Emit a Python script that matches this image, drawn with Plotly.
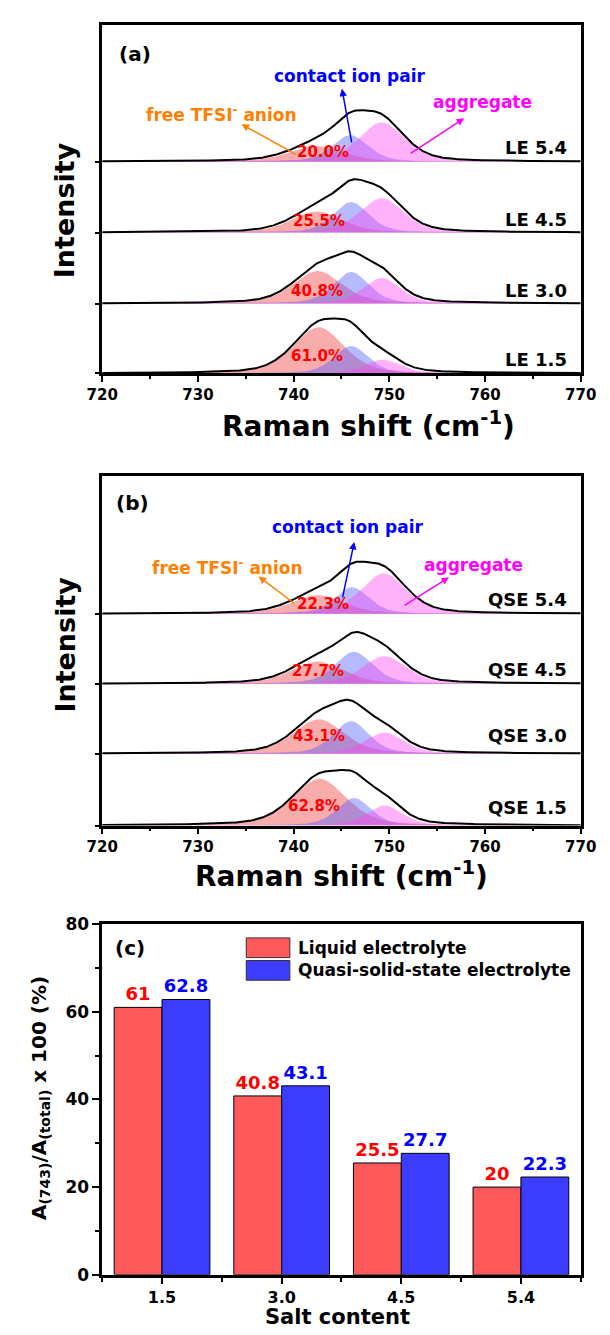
import numpy as np
import plotly.graph_objects as go

W, H = 610, 1335
FONT = "DejaVu Sans"

# ---------------------------------------------------------------- data
samples = ["1.5", "3.0", "4.5", "5.4"]           # salt content
le_names = ["LE 1.5", "LE 3.0", "LE 4.5", "LE 5.4"]
qse_names = ["QSE 1.5", "QSE 3.0", "QSE 4.5", "QSE 5.4"]

# free-anion area fraction (%), shown in (a)/(b) and as bars in (c)
le_free_pct = [61.0, 40.8, 25.5, 20.0]
qse_free_pct = [62.8, 43.1, 27.7, 22.3]

# fitted Raman bands: centre (cm-1), height (a.u.), FWHM (cm-1)
le_free_c = [742.6, 742.5, 742.4, 742.4]
le_free_h = [47.0, 33.0, 21.5, 16.0]
le_free_w = [6.2, 6.0, 6.2, 6.5]
le_cip_c = [746.0, 746.0, 746.0, 745.9]
le_cip_h = [28.0, 32.0, 31.0, 27.0]
le_cip_w = [4.2, 4.4, 4.4, 4.4]
le_agg_c = [749.3, 749.2, 749.2, 749.2]
le_agg_h = [14.0, 26.0, 35.0, 40.0]
le_agg_w = [4.4, 4.6, 5.4, 5.6]

qse_free_c = [742.7, 742.6, 742.5, 742.5]
qse_free_h = [47.5, 35.0, 22.5, 19.0]
qse_free_w = [6.6, 6.2, 6.4, 6.4]
qse_cip_c = [746.3, 746.0, 746.3, 746.1]
qse_cip_h = [28.0, 33.0, 32.5, 27.0]
qse_cip_w = [4.2, 4.4, 4.6, 4.2]
qse_agg_c = [749.5, 749.5, 749.5, 749.4]
qse_agg_h = [20.5, 21.5, 28.0, 41.0]
qse_agg_w = [4.4, 4.8, 5.4, 5.6]

# ---------------------------------------------------------------- helpers
shift = np.linspace(720, 770, 501)
ETA = 0.4


def band(c, h, w):
    """pseudo-Voigt band evaluated on the Raman shift grid"""
    d = (shift - c) / w
    return h * (ETA / (1 + 4 * d ** 2) + (1 - ETA) * np.exp(-4 * np.log(2) * d ** 2))


def pxx(x):
    return x / W


def pxy(y):
    return 1 - y / H


FREE_FILL = "rgba(240,70,70,0.45)"
CIP_FILL = "rgba(80,90,255,0.42)"
AGG_FILL = "rgba(255,70,240,0.42)"

fig = go.Figure()
annotations = []


def spectra_panel(xa, ya, names, pct, free, cip, agg, offsets, name_lift, pct_pos):
    for i in range(4):
        off = offsets[i]
        comps = [band(free[0][i], free[1][i], free[2][i]),
                 band(cip[0][i], cip[1][i], cip[2][i]),
                 band(agg[0][i], agg[1][i], agg[2][i])]
        for comp, col in zip(comps, [FREE_FILL, CIP_FILL, AGG_FILL]):
            fig.add_trace(go.Scatter(
                x=np.concatenate([shift, shift[::-1]]),
                y=np.concatenate([off + comp, np.full(shift.size, off)]),
                fill="toself", fillcolor=col, line=dict(width=0),
                mode="lines", hoverinfo="skip", showlegend=False,
                xaxis=xa, yaxis=ya))
        fig.add_trace(go.Scatter(
            x=shift, y=off + comps[0] + comps[1] + comps[2],
            mode="lines", line=dict(color="black", width=2),
            hoverinfo="skip", showlegend=False, xaxis=xa, yaxis=ya))
        annotations.append(dict(
            x=768.8, y=off + name_lift[i], xref=xa, yref=ya,
            text="<b>%s</b>" % names[i], showarrow=False, xanchor="right",
            font=dict(family=FONT, size=18, color="black")))
        annotations.append(dict(
            x=pct_pos[i][0], y=off + pct_pos[i][1], xref=xa, yref=ya,
            text="<b>%.1f%%</b>" % pct[i], showarrow=False,
            font=dict(family=FONT, size=15, color="#FF0000")))


spectra_panel("x", "y", le_names, le_free_pct,
              (le_free_c, le_free_h, le_free_w),
              (le_cip_c, le_cip_h, le_cip_w),
              (le_agg_c, le_agg_h, le_agg_w),
              offsets=[0, 71, 143, 215], name_lift=[14, 13, 13, 14],
              pct_pos=[(742.4, 18), (742.4, 13), (742.7, 12), (743.1, 10)])

spectra_panel("x2", "y2", qse_names, qse_free_pct,
              (qse_free_c, qse_free_h, qse_free_w),
              (qse_cip_c, qse_cip_h, qse_cip_w),
              (qse_agg_c, qse_agg_h, qse_agg_w),
              offsets=[0, 73, 144, 215], name_lift=[18, 18, 14, 15],
              pct_pos=[(742.1, 20), (742.6, 18), (742.5, 13), (743.1, 10)])

# ---------------------------------------------------------------- bars (c)
xpos = list(range(len(samples)))
fig.add_trace(go.Bar(
    x=xpos, y=le_free_pct, name="Liquid electrolyte",
    marker=dict(color="#FF5A5A", line=dict(color="black", width=1)),
    text=["%g" % v for v in le_free_pct], textposition="outside",
    textfont=dict(family=FONT, size=18, color="#FF0000", weight="bold"),
    cliponaxis=False, showlegend=False, xaxis="x3", yaxis="y3"))
fig.add_trace(go.Bar(
    x=xpos, y=qse_free_pct, name="Quasi-solid-state electrolyte",
    marker=dict(color="#3C3CFF", line=dict(color="black", width=1)),
    text=["%g" % v for v in qse_free_pct], textposition="outside",
    textfont=dict(family=FONT, size=18, color="#0000FF", weight="bold"),
    cliponaxis=False, showlegend=False, xaxis="x3", yaxis="y3"))

# ---------------------------------------------------------------- axes
XL, XR = 91, 596
XDOM = [pxx(XL), pxx(XR)]
frame = dict(showline=True, linewidth=2.5, linecolor="black", mirror=True,
             showgrid=False, zeroline=False)
tickf = dict(family=FONT, size=15, color="black", weight="bold")

raman_x = dict(frame, domain=XDOM, range=[720, 770], tickmode="linear",
               tick0=720, dtick=10, ticks="outside", ticklen=6, tickwidth=2,
               tickcolor="black", tickfont=tickf, ticklabeloverflow="allow",
               minor=dict(dtick=5, tick0=720, ticks="outside", ticklen=3,
                          tickwidth=2, tickcolor="black"))


def stack_y(dom, top, offs):
    return dict(frame, domain=dom, range=[0, top], tickmode="array",
                tickvals=offs, ticks="outside", ticklen=4, tickwidth=2,
                tickcolor="black", showticklabels=False)


fig.update_layout(
    width=W, height=H, margin=dict(l=0, r=0, t=0, b=0),
    paper_bgcolor="white", plot_bgcolor="white",
    barmode="group", bargap=0.2, bargroupgap=0,
    xaxis=dict(raman_x, anchor="y"),
    yaxis=dict(stack_y([pxy(369), pxy(15)], 354, [0, 71, 143, 215]), anchor="x"),
    xaxis2=dict(raman_x, anchor="y2"),
    yaxis2=dict(stack_y([pxy(828), pxy(473)], 355, [0, 73, 144, 215]), anchor="x2"),
    xaxis3=dict(frame, domain=XDOM, anchor="y3", range=[-0.5, 3.5],
                tickmode="array", tickvals=xpos, ticktext=samples,
                ticks="outside", ticklen=6, tickwidth=2, tickcolor="black",
                tickfont=dict(tickf, size=16),
                minor=dict(tickvals=[-0.5, 0.5, 1.5, 2.5, 3.5], ticks="outside",
                           ticklen=4, tickwidth=2, tickcolor="black")),
    yaxis3=dict(frame, domain=[pxy(1284), pxy(928)], anchor="x3", range=[0, 80],
                tickmode="linear", tick0=0, dtick=20, ticks="outside", ticklen=7,
                tickwidth=2, tickcolor="black", tickfont=dict(tickf, size=17),
                minor=dict(dtick=10, ticks="outside", ticklen=4, tickwidth=2,
                           tickcolor="black")),
)


# ---------------------------------------------------------------- text
def txt(x, y, s, size, color="black", angle=0, xanchor="center"):
    annotations.append(dict(x=pxx(x), y=pxy(y), xref="paper", yref="paper",
                            text="<b>%s</b>" % s, showarrow=False, textangle=angle,
                            xanchor=xanchor, yanchor="middle",
                            font=dict(family=FONT, size=size, color=color)))


def arrow(x0, y0, x1, y1, color):
    annotations.append(dict(x=pxx(x1), y=pxy(y1), xref="paper", yref="paper",
                            ax=x0 - x1, ay=y0 - y1, text="", showarrow=True,
                            arrowhead=2, arrowsize=1, arrowwidth=1.5,
                            arrowcolor=color))


ORANGE, BLUE, MAGENTA = "#FF8000", "#0000FF", "#FF00FF"

# panel (a)
txt(126, 45, "(a)", 20)
txt(352, 67, "contact ion pair", 17, BLUE)
txt(217, 106, "free TFSI<sup>-</sup> anion", 17, ORANGE)
txt(492, 93, "aggregate", 17, MAGENTA)
arrow(354, 135, 344, 80, BLUE)
arrow(294, 147, 238, 116, ORANGE)
arrow(418, 146, 473, 110, MAGENTA)
txt(52, 203, "Intensity", 27, angle=-90)
txt(372, 421, "Raman shift (cm<sup>-1</sup>)", 28)

# panel (b)
txt(123, 500, "(b)", 20)
txt(350, 525, "contact ion pair", 17, BLUE)
txt(223, 565, "free TFSI<sup>-</sup> anion", 17, ORANGE)
txt(483, 563, "aggregate", 17, MAGENTA)
arrow(345, 597, 357, 540, BLUE)
arrow(293, 603, 256, 575, ORANGE)
arrow(411, 605, 457, 576, MAGENTA)
txt(52, 644, "Intensity", 27, angle=-90)
txt(343, 878, "Raman shift (cm<sup>-1</sup>)", 28)

# panel (c)
txt(120, 952, "(c)", 20)
txt(26, 1105, "A<sub>(743)</sub>/A<sub>(total)</sub> x 100 (%)", 20, angle=-90)
txt(339, 1327, "Salt content", 21)
legend_items = [("Liquid electrolyte", "#FF5A5A", 942),
                ("Quasi-solid-state electrolyte", "#3C3CFF", 965)]
shapes = []
for label, col, top in legend_items:
    shapes.append(dict(type="rect", xref="paper", yref="paper",
                       x0=pxx(243), x1=pxx(289), y0=pxy(top + 20), y1=pxy(top),
                       fillcolor=col, line=dict(color="#333333", width=1)))
    txt(296, top + 10, label, 17, xanchor="left")

fig.update_layout(annotations=annotations, shapes=shapes)
fig.write_html("out.html")
